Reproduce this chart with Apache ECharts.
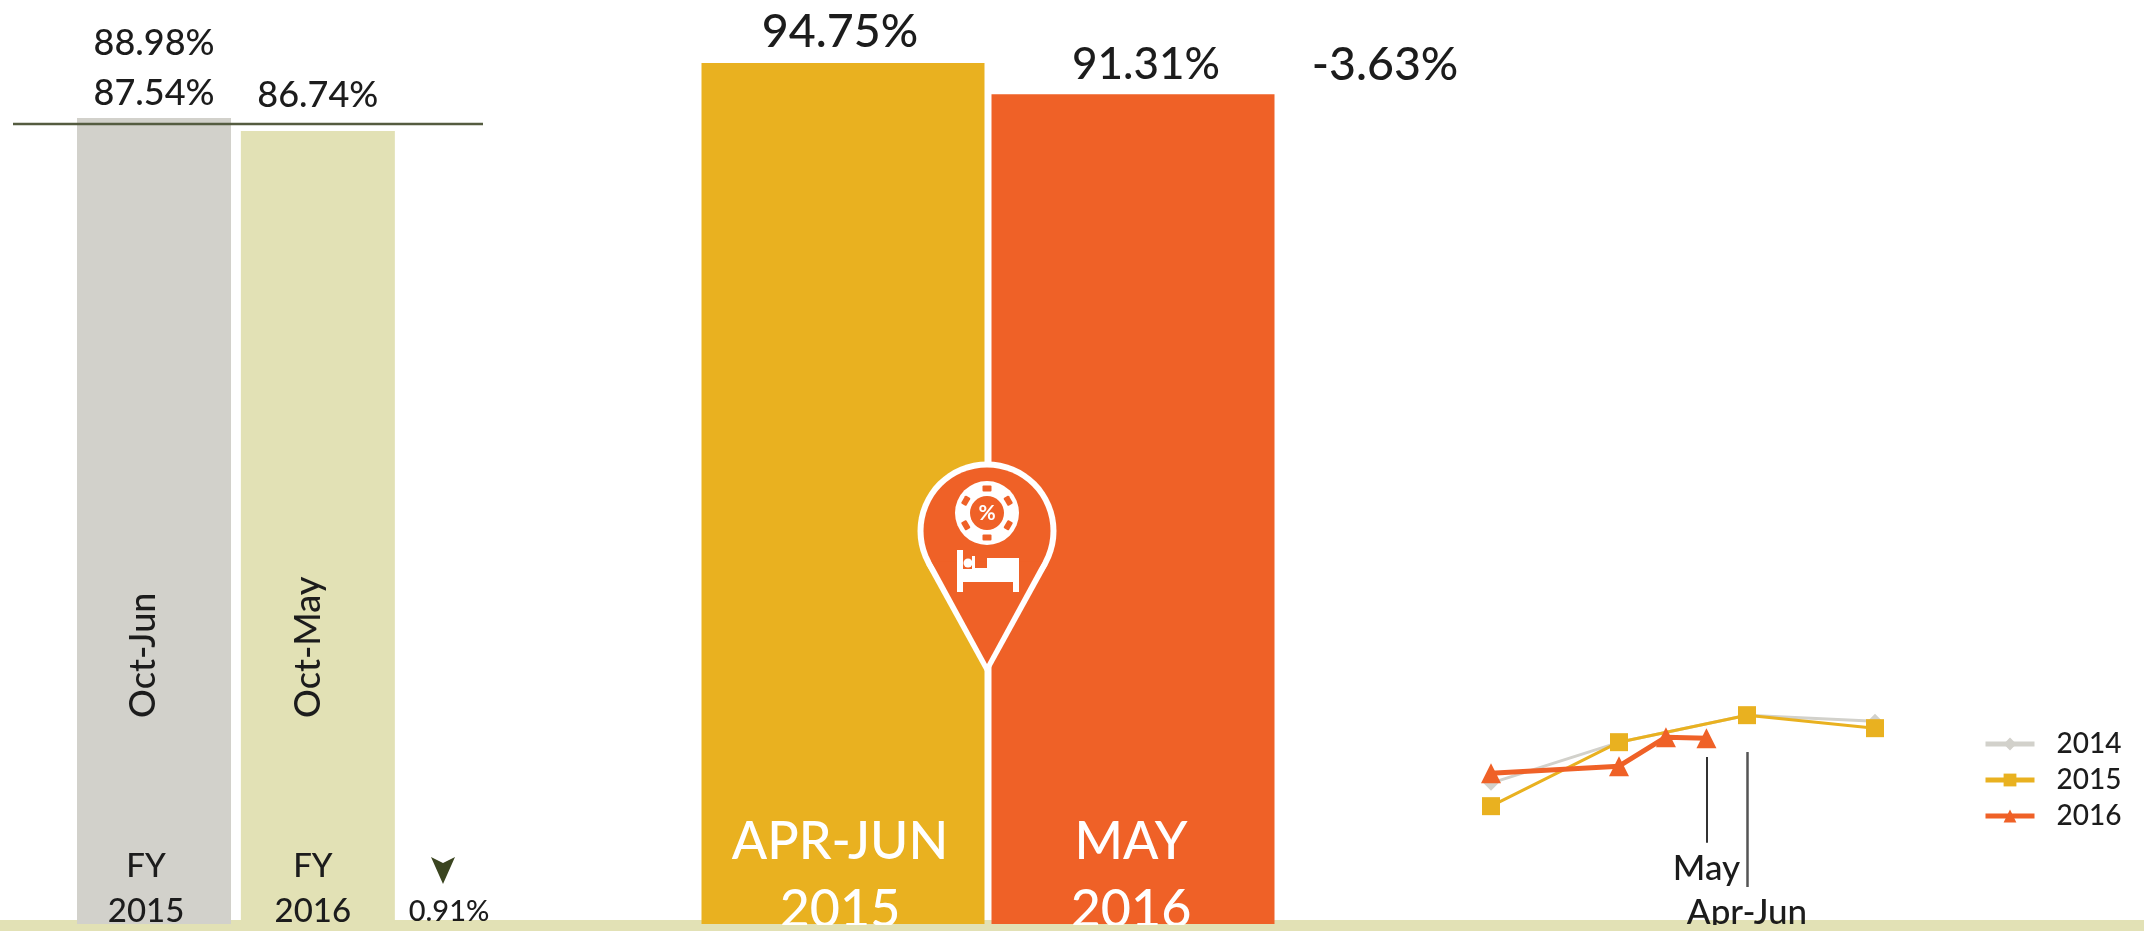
<!DOCTYPE html>
<html><head><meta charset="utf-8">
<style>html,body{margin:0;padding:0;background:#fff}#c{width:2144px;height:931px}</style>
<script src="https://cdn.jsdelivr.net/npm/echarts@6/dist/echarts.min.js"></script>
</head><body><div id="c"></div>
<script>
// ---- data ----
const fyPositions = [1, 2.005];
const fyValues = [87.54, 86.74];
const fyPrior = 88.98;
const fyReference = 87.17;
const fyPeriods = ['Oct-Jun', 'Oct-May'];
const fyNames = ['FY\n2015', 'FY\n2016'];
const fyChange = '0.91%';
const periodNames = ['APR-JUN\n2015', 'MAY\n2016'];
const periodValues = [94.75, 91.31];
const periodChange = '-3.63%';
const monthPos = [0, 3, 4.1, 5.05, 6, 9];
const line2014 = [84.6, 90.7, null, null, 94.75, 93.85];
const line2015 = [81.17, 90.72, null, null, 94.75, 92.81];
const line2016 = [86.09, 87.14, 91.47, 91.31, null, null];
const years = ['2014', '2015', '2016'];
// ---- style ----
const FONT = 'Lato', INK = '#1c1c1c', WEIGHT = 500;
const GRAY = '#d2d1cb', OLIVE = '#e2e1b5', GOLD = '#e9b120', ORANGE = '#ef6127';
const pct = v => v.toFixed(2) + '%';
const clear = {color: 'rgba(0,0,0,0)'};
const fyBarColors = [GRAY, OLIVE], periodBarColors = [GOLD, ORANGE];

function pairs(arr) {
  return arr.map((v, i) => v == null ? null : [monthPos[i], v]).filter(Boolean);
}
function lineSeries(name, data, color, symbol, size, width, z, extra) {
  return Object.assign({
    type: 'line', name, data: pairs(data), xAxisIndex: 2, yAxisIndex: 2, clip: false, z,
    symbol, symbolSize: size, lineStyle: {color, width}, itemStyle: {color}, animation: false
  }, extra || {});
}
function fyOverlay(labelFor) {
  return {
    type: 'bar', xAxisIndex: 0, yAxisIndex: 0, barWidth: 154, barGap: '-100%', silent: true, animation: false,
    itemStyle: clear, z: 4,
    data: fyValues.map((v, i) => ({value: [fyPositions[i], v], label: labelFor(i)}))
  };
}
function periodOverlay(labelFor) {
  return {
    type: 'bar', xAxisIndex: 1, yAxisIndex: 1, barWidth: 283, barGap: '-100%', silent: true, animation: false,
    itemStyle: clear, z: 4,
    data: periodValues.map((v, i) => ({value: v, label: labelFor(i)}))
  };
}
const txt = (size, extra) => Object.assign({show: true, fontFamily: FONT, fontWeight: WEIGHT, fontSize: size, color: INK}, extra);

const series = [
  // left pair
  {type: 'bar', xAxisIndex: 0, yAxisIndex: 0, barWidth: 154, barGap: '-100%', animation: false, z: 2,
   data: fyValues.map((v, i) => ({value: [fyPositions[i], v], itemStyle: {color: fyBarColors[i]}}))},
  fyOverlay(i => txt(36, {position: 'top', lineHeight: 50,
    distance: i === 0 ? 0 : 11,
    formatter: i === 0 ? pct(fyPrior) + '\n' + pct(fyValues[0]) : pct(fyValues[1])})),
  fyOverlay(i => txt(33, {position: 'insideBottom', lineHeight: 45, distance: -10,
    offset: [i === 0 ? -8 : -5, 0], formatter: fyNames[i]})),
  fyOverlay(i => txt(36, {position: 'insideBottom', rotate: 90, align: 'left', verticalAlign: 'middle',
    distance: 206, offset: [0, i === 0 ? -11 : -9], formatter: fyPeriods[i]})),
  {type: 'line', xAxisIndex: 0, yAxisIndex: 0, showSymbol: false, symbol: 'none', z: 5, animation: false,
   lineStyle: {color: '#555c40', width: 2.5}, data: [[0.135, fyReference], [3.018, fyReference]]},
  // middle pair
  {type: 'bar', xAxisIndex: 1, yAxisIndex: 1, barWidth: 283, barGap: '-100%', animation: false, z: 2,
   data: periodValues.map((v, i) => ({value: v, itemStyle: {color: periodBarColors[i]}}))},
  periodOverlay(i => txt(i === 0 ? 46.5 : 44, {position: 'top', distance: i === 0 ? 9 : 7, lineHeight: 44,
    offset: [i === 0 ? -3 : 13, 0], formatter: pct(periodValues[i])})),
  periodOverlay(i => txt(52, {position: 'insideBottom', color: '#fff', lineHeight: 68, distance: -20,
    offset: [i === 0 ? -3 : -2, 0], formatter: periodNames[i]})),
  // trend lines
  lineSeries(years[0], line2014, '#d2d1cb', 'diamond', 15, 3, 3),
  lineSeries(years[1], line2015, GOLD, 'rect', 18, 3, 4, {
    markLine: {silent: true, symbol: 'none', animation: false,
      lineStyle: {color: '#555', width: 2.5, type: 'solid'},
      label: txt(35, {position: 'end', distance: 8, formatter: p => p.name}),
      data: [
        [{name: 'Apr-Jun', coord: [monthPos[4], 89.25]}, {coord: [monthPos[4], 69.1]}],
        [{name: 'May', coord: [monthPos[3], 88.5], lineStyle: {color: '#333', width: 2}}, {coord: [monthPos[3], 75.7]}]
      ]}
  }),
  lineSeries(years[2], line2016, ORANGE, 'triangle', 20, 5, 5)
];

// pin decoration pieces
const chipCx = 987, chipCy = 513;
const notches = [0, 60, 120, 180, 240, 300].map(a => {
  const r = a * Math.PI / 180;
  return {type: 'rect', z: 103, x: chipCx + 24.5 * Math.sin(r), y: chipCy - 24.5 * Math.cos(r),
    rotation: -r, shape: {x: -4.5, y: -3, width: 9, height: 6, r: 1}, style: {fill: ORANGE}};
});
const w = {fill: '#fff'};
const rect = (x, y, width, height) => ({type: 'rect', z: 103, shape: {x, y, width, height}, style: w});
function pinParts(r, tipY, fill, z) {
  const cx = 987, cy = 531, d = tipY - cy, c = r / d, s = Math.sqrt(1 - c * c);
  return [
    {type: 'circle', z, shape: {cx, cy, r}, style: {fill}},
    {type: 'polygon', z, shape: {points: [[cx - r * s, cy + r * c], [cx + r * s, cy + r * c], [cx, tipY]]}, style: {fill}}
  ];
}

const graphic = [
  {type: 'rect', z: -10, shape: {x: 0, y: 920, width: 2144, height: 11}, style: {fill: OLIVE}},
  {type: 'rect', z: 50, shape: {x: 0, y: 925, width: 2144, height: 6}, style: {fill: OLIVE}},
  {type: 'text', z: 10, style: {x: 1385, y: 65, text: periodChange, font: WEIGHT + ' 46.5px ' + FONT, fill: INK, align: 'center', verticalAlign: 'middle'}},
  {type: 'text', z: 10, style: {x: 449, y: 912, text: fyChange, font: WEIGHT + ' 29px ' + FONT, fill: INK, align: 'center', verticalAlign: 'middle'}},
  {type: 'polygon', z: 10, shape: {points: [[431, 857], [443, 863], [455, 857], [443, 884]]}, style: {fill: '#3b4520'}},
  ...pinParts(69.5, 675, '#fff', 101),
  ...pinParts(63.5, 664, ORANGE, 102),
  {type: 'circle', z: 103, shape: {cx: chipCx, cy: chipCy, r: 32}, style: w},
  {type: 'circle', z: 103, shape: {cx: chipCx, cy: chipCy, r: 17}, style: {fill: ORANGE}},
  ...notches,
  {type: 'text', z: 104, style: {x: chipCx, y: chipCy, text: '%', font: 'bold 21px ' + FONT, fill: '#fff', align: 'center', verticalAlign: 'middle'}},
  rect(957, 550, 6, 42), rect(1013, 558, 6, 34), rect(957, 572, 62, 10),
  rect(972, 568, 41, 4), rect(987, 558, 26, 10),
  {type: 'circle', z: 103, shape: {cx: 968, cy: 563, r: 4.5}, style: w},
  rect(972, 556, 3, 12), rect(963, 569, 12, 3)
];

const option = {
  backgroundColor: '#fff',
  animation: false,
  textStyle: {fontFamily: FONT},
  grid: [
    {left: 13, width: 470, top: 0, height: 924},
    {left: 698, width: 580, top: 0, height: 924},
    {left: 1491, width: 384, top: 680, height: 234.5}
  ],
  xAxis: [
    {gridIndex: 0, type: 'value', min: 0.135, max: 3.018, show: false},
    {gridIndex: 1, type: 'category', data: periodNames, show: false},
    {gridIndex: 2, type: 'value', min: 0, max: 9, show: false}
  ],
  yAxis: [
    {gridIndex: 0, type: 'value', min: 37.94, max: 94.8, show: false},
    {gridIndex: 1, type: 'value', min: 0, max: 101.68, show: false},
    {gridIndex: 2, type: 'value', min: 65, max: 100, show: false}
  ],
  legend: {
    data: years, orient: 'vertical', left: 1978, top: 725, itemWidth: 49, itemHeight: 16, itemGap: 8,
    lineStyle: {width: 5},
    textStyle: {fontFamily: FONT, fontWeight: WEIGHT, fontSize: 28, color: INK, padding: [3, 0, 0, 17]}
  },
  graphic: {elements: graphic},
  series
};
echarts.init(document.getElementById('c')).setOption(option);
</script></body></html>
